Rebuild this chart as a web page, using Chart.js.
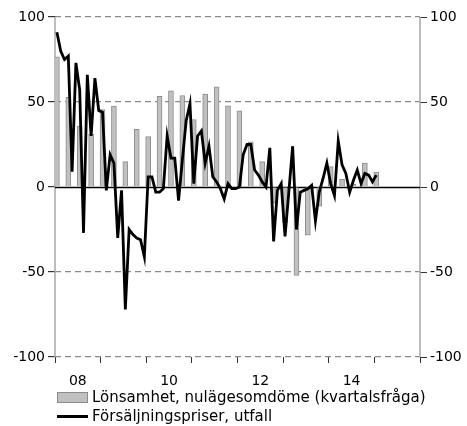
<!DOCTYPE html>
<html>
<head>
<meta charset="utf-8">
<script src="https://cdn.jsdelivr.net/npm/chart.js@4.4.1/dist/chart.umd.min.js"></script>
<style>
  body { margin: 0; background: #fff; }
  #wrap { position: relative; width: 467px; height: 426px; font-family: "DejaVu Sans", Verdana, sans-serif; }
  canvas { position: absolute; left: 0; top: 0; }
  .leg { position: absolute; left: 57px; font-size: 15px; line-height: 18px; color: #000; display: flex; align-items: center; white-space: nowrap; }
  .sw { width: 31px; margin-right: 4px; box-sizing: border-box; }
</style>
</head>
<body>
<div id="wrap">
  <canvas id="chart" width="467" height="426"></canvas>
  <div class="leg" style="top:388px"><span class="sw" style="height:11px;background:#c0c0c0;border:1px solid #8c8c8c"></span>Lönsamhet, nulägesomdöme (kvartalsfråga)</div>
  <div class="leg" style="top:407px"><span class="sw" style="height:3px;background:#000"></span>Försäljningspriser, utfall</div>
</div>
<script>
// first month is jan 2008, axis runs 2008-2015
const startYear = 2008;
const yearCount = 8;
const yearLabels = ["08", "10", "12", "14"];

// Försäljningspriser, utfall (monthly)
const salesPrices = [
  91, 80, 75, 77, 9, 73, 57, -27, 66, 30,
  64, 45, 44, -2, 19, 14, -30, -2, -72, -25,
  -28, -30, -31, -41, 6, 6, -3, -3, -1, 30,
  17, 17, -8, 16, 39, 49, 2, 30, 33, 14,
  24, 6, 3, -1, -7, 2, -1, -1, 0, 19,
  25, 25, 10, 7, 3, 0, 23, -32, -2, 2,
  -29, -3, 24, -25, -3, -2, -1, 1, -20, -3,
  5, 14, 2, -5, 27, 13, 8, -3, 4, 10,
  2, 8, 7, 3, 7
];

// Lönsamhet, nulägesomdöme (quarterly)
const profitability = [
  76.5, 52.7, 35.8, 31, 45.6, 47.6, 14.9, 33.9, 29.6, 53.4,
  56.6, 53.8, 39.7, 54.6, 58.9, 47.8, 44.8, 26.6, 14.9, -9.5,
  -21, -52, -28.4, -11.3, 12, 4.5, 1.7, 14, 8.8
];

const monthCount = yearCount * 12;
const labelAt = {};
yearLabels.forEach((lab) => {
  labelAt[(2000 + Number(lab) - startYear) * 12 + 6] = lab;
});

// solid zero line + grey side axes (the other grid lines are dashed)
const frame = {
  id: "frame",
  beforeDatasetsDraw(chart) {
    const { ctx, chartArea, scales } = chart;
    const y = Math.round(scales.y.getPixelForValue(0)) + 0.5;
    ctx.save();
    ctx.strokeStyle = "#a8a8a8";
    ctx.lineWidth = 1.5;
    ctx.beginPath();
    ctx.moveTo(chartArea.left, chartArea.top);
    ctx.lineTo(chartArea.left, chartArea.bottom);
    ctx.moveTo(chartArea.right, chartArea.top);
    ctx.lineTo(chartArea.right, chartArea.bottom);
    ctx.stroke();
    ctx.strokeStyle = "#000";
    ctx.beginPath();
    ctx.moveTo(chartArea.left, y);
    ctx.lineTo(chartArea.right, y);
    ctx.stroke();
    ctx.restore();
  },
};

const tickFont = { family: "'DejaVu Sans', Verdana, sans-serif", size: 14 };

new Chart(document.getElementById("chart"), {
  type: "bar",
  data: {
    datasets: [
      {
        type: "line",
        label: "Försäljningspriser, utfall",
        data: salesPrices.map((v, i) => ({ x: i + 0.5, y: v })),
        borderColor: "#000",
        borderWidth: 2.8,
        pointRadius: 0,
        tension: 0,
        order: 0,
      },
      {
        type: "bar",
        label: "Lönsamhet, nulägesomdöme (kvartalsfråga)",
        data: profitability.map((v, i) => ({ x: i * 3 + 0.5, y: v })),
        backgroundColor: "#c0c0c0",
        borderColor: "#8c8c8c",
        borderWidth: 1,
        barThickness: 5,
        order: 1,
      },
    ],
  },
  options: {
    responsive: false,
    animation: false,
    devicePixelRatio: 1,
    layout: { padding: { top: 17, left: 0, right: 0, bottom: 0 } },
    plugins: { legend: { display: false }, tooltip: { enabled: false } },
    scales: {
      x: {
        type: "linear",
        min: 0,
        max: monthCount,
        offset: false,
        afterBuildTicks: (s) => {
          const t = [];
          for (let v = 0; v <= monthCount; v += 6) t.push({ value: v });
          s.ticks = t;
        },
        afterFit: (s) => { s.height = 69; },
        ticks: {
          autoSkip: false,
          maxRotation: 0,
          padding: 10,
          color: "#000",
          font: tickFont,
          callback: (v) => labelAt[v] || "",
        },
        grid: {
          offset: false,
          drawOnChartArea: false,
          tickLength: 6,
          tickColor: (c) => (c.tick && c.tick.value % 12 === 0 ? "#333" : "transparent"),
        },
        border: { display: false },
      },
      y: {
        position: "left",
        min: -100,
        max: 100,
        afterFit: (s) => { s.width = 55; },
        ticks: { stepSize: 50, padding: 3, color: "#000", font: tickFont },
        grid: {
          color: (c) => (c.tick && c.tick.value === 0 ? "transparent" : "#8a8a8a"),
          lineWidth: 1.2,
          tickLength: 7,
          tickColor: "#333",
        },
        border: { display: false, dash: [6, 4] },
      },
      y2: {
        position: "right",
        min: -100,
        max: 100,
        afterFit: (s) => { s.width = 47; },
        ticks: { stepSize: 50, padding: 3, color: "#000", font: tickFont },
        grid: { drawOnChartArea: false, tickLength: 7, tickColor: "#333" },
        border: { display: false },
      },
    },
  },
  plugins: [frame],
});
</script>
</body>
</html>
